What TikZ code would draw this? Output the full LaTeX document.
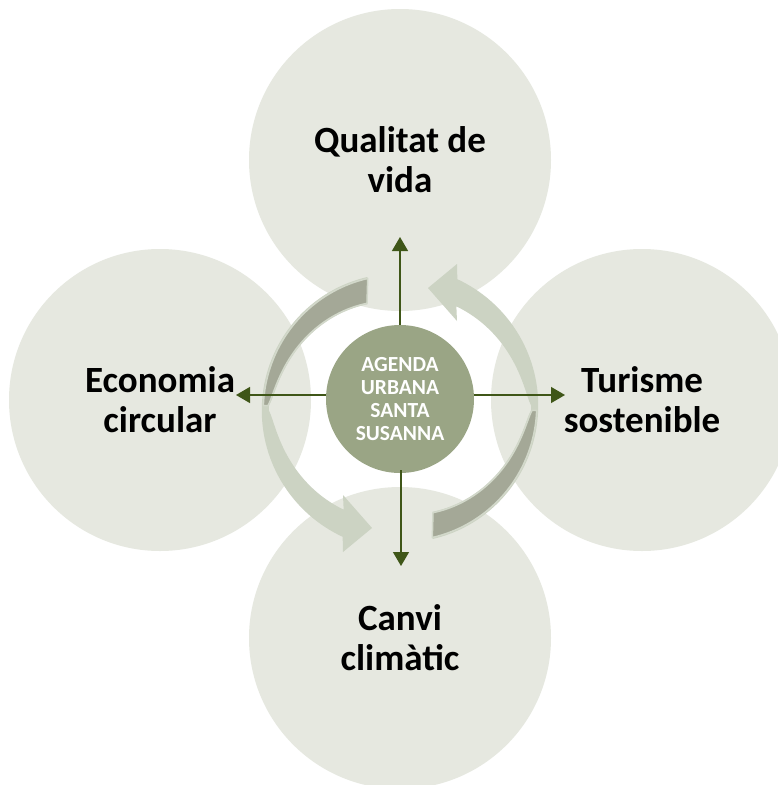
\documentclass[tikz,border=0pt]{standalone}
\usepackage{fontspec}
\setmainfont{Carlito}
\usetikzlibrary{arrows.meta}
\definecolor{bigfill}{HTML}{E6E8E0}
\definecolor{ctrfill}{HTML}{9AA585}
\definecolor{connc}{HTML}{3F5618}
\definecolor{riblight}{HTML}{CCD3C3}
\definecolor{ribdark}{HTML}{A4A897}
\definecolor{ribedge}{HTML}{D2D8CA}
\newcommand\myribbon{%
  \fill[ribbonlight]
    plot[domain=104:246, samples=70, variable=\t] ({ro(\t)*cos(\t)}, {ro(\t)*sin(\t)})
    -- (-57,-144) -- (-28,-120) -- (-57,-87)
    -- plot[domain=241:107.5, samples=70, variable=\t] ({(ro(\t)-wd(\t))*cos(\t)}, {(ro(\t)-wd(\t))*sin(\t)})
    -- cycle;
  \filldraw[ribbondark]
    plot[domain=104:179, samples=60, variable=\t] ({(ro(\t)-1.5)*cos(\t)}, {(ro(\t)-1.5)*sin(\t)})
    -- plot[domain=179:107.5, samples=60, variable=\t] ({(ro(\t)-wd(\t)+1)*cos(\t)}, {(ro(\t)-wd(\t)+1)*sin(\t)})
    -- cycle;
}
\begin{document}
\begin{tikzpicture}[x=1pt,y=-1pt,
  declare function={ro(\t)=135+(\t-104)*6/142; wd(\t)=4.5+21.5*sqrt(abs(\t-180)/70);},
  bigc/.style={circle, fill=bigfill, minimum size=302pt, inner sep=0pt, align=center,
    font=\fontsize{37}{40}\selectfont\bfseries, text=black},
  ctrc/.style={circle, fill=ctrfill, minimum size=148pt, inner sep=0pt, align=center,
    font=\fontsize{21.5}{23.3}\selectfont\bfseries, text=white},
  conn/.style={draw=connc, line width=1.3pt, -{Triangle[width=16pt,length=14pt]}},
  ribbonlight/.style={fill=riblight},
  ribbondark/.style={fill=ribdark, draw=ribedge, line width=1.5pt, line join=round}]
\useasboundingbox (0,0) rectangle (777,785);
\fill[white] (0,0) rectangle (777,785);
\node[bigc] (qv) at (400,160) {Qualitat de\\vida};
\node[bigc] (ec) at (160,400) {Economia\\circular};
\node[bigc] (ts) at (642,400) {Turisme\\sostenible};
\node[bigc] (cc) at (400,638) {Canvi\\climàtic};
\begin{scope}[shift={(400,408)}, yscale=-1]
  \myribbon
\end{scope}
\begin{scope}[shift={(400,408)}, yscale=-1, rotate=180]
  \myribbon
\end{scope}
\node[ctrc] (au) at (400,399) {AGENDA\\URBANA\\SANTA\\SUSANNA};
\coordinate (tu) at (400,237);
\coordinate (td) at (401,566);
\coordinate (tl) at (236,395);
\coordinate (tr) at (565,395);
\draw[conn] (au.north) -- (tu);
\draw[conn] ([yshift=3pt]au.south -| td) -- (td);
\draw[conn] (au.west |- tl) -- (tl);
\draw[conn] (au.east |- tr) -- (tr);
\end{tikzpicture}
\end{document}
